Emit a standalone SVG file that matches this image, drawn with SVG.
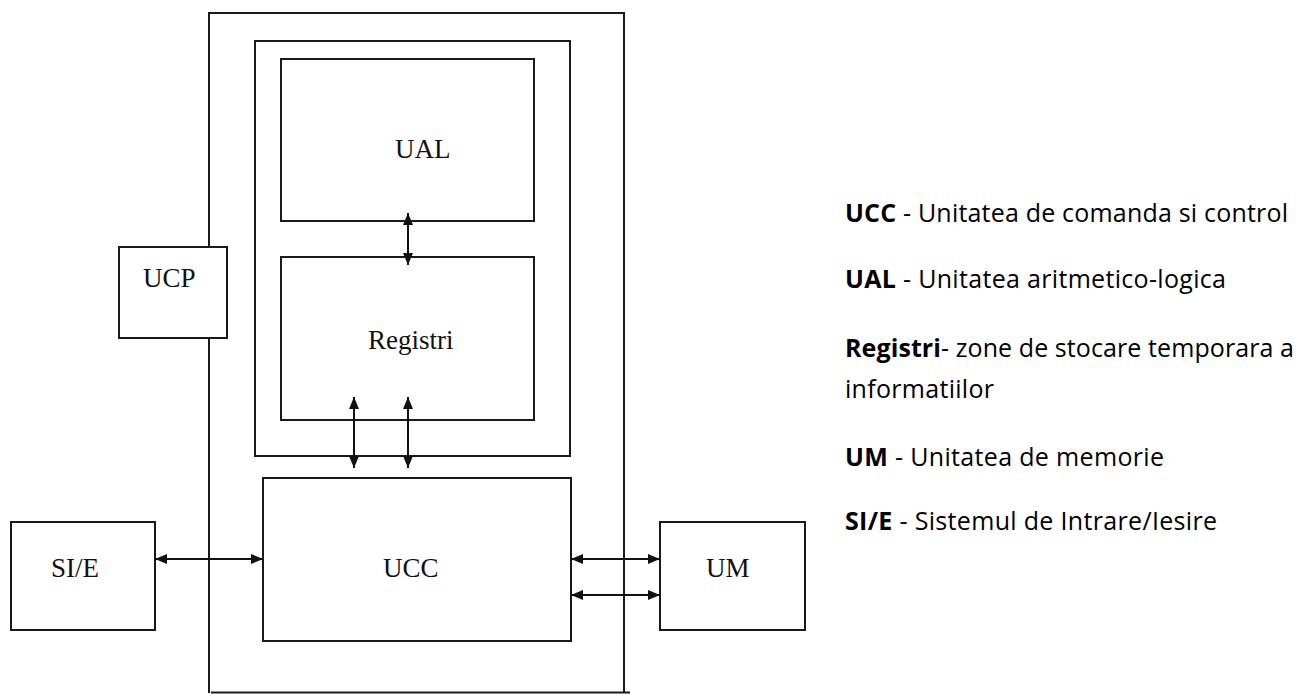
<svg xmlns="http://www.w3.org/2000/svg" width="1296" height="695" viewBox="0 0 1296 695">
<style>
.box{fill:#fff;stroke:#1a1a1a;stroke-width:2}
.frame{fill:none;stroke:#1a1a1a;stroke-width:2}
.lbl{font-family:"Liberation Serif","Times New Roman",serif;font-size:27px;fill:#111}
.conn{stroke:#111;stroke-width:2;fill:none;marker-start:url(#ah);marker-end:url(#ah)}
.leg{font-family:"Open Sans","Noto Sans",sans-serif;font-size:25px;fill:#000}
.b{font-weight:bold}
</style>
<defs>
<marker id="ah" markerUnits="userSpaceOnUse" markerWidth="12" markerHeight="10" refX="12" refY="5" orient="auto-start-reverse">
<path d="M0,0 L12,5 L0,10 z" fill="#111"/>
</marker>
</defs>
<rect width="1296" height="695" fill="#fff"/>
<g id="outer">
<path class="frame" d="M209,693 V13 H624 V693"/>
<line class="frame" x1="211" y1="692.5" x2="630" y2="692.5"/>
</g>
<g id="container">
<rect class="frame" x="255" y="41" width="315" height="415"/>
</g>
<g id="UCP">
<rect class="box" x="119" y="247" width="108" height="91"/>
<text class="lbl" x="143" y="287">UCP</text>
</g>
<g id="UAL">
<rect class="box" x="281" y="59" width="253" height="162"/>
<text class="lbl" x="395" y="158">UAL</text>
</g>
<g id="Registri">
<rect class="box" x="281" y="257" width="253" height="163"/>
<text class="lbl" x="368" y="349">Registri</text>
</g>
<g id="UCC">
<rect class="box" x="263" y="478" width="308" height="163"/>
<text class="lbl" x="383" y="577">UCC</text>
</g>
<g id="SIE">
<rect class="box" x="11" y="522" width="144" height="108"/>
<text class="lbl" x="51" y="577">SI/E</text>
</g>
<g id="UM">
<rect class="box" x="660" y="522" width="145" height="108"/>
<text class="lbl" x="706" y="577">UM</text>
</g>
<g id="connectors">
<line class="conn" x1="408" y1="213" x2="408" y2="265"/>
<line class="conn" x1="354" y1="397" x2="354" y2="468"/>
<line class="conn" x1="408" y1="397" x2="408" y2="468"/>
<line class="conn" x1="155" y1="559" x2="263" y2="559"/>
<line class="conn" x1="571" y1="559" x2="660" y2="559"/>
<line class="conn" x1="571" y1="595" x2="660" y2="595"/>
</g>
<g id="legend">
<text class="leg" x="845" y="222" textLength="443" lengthAdjust="spacing"><tspan class="b">UCC</tspan> - Unitatea de comanda si control</text>
<text class="leg" x="845" y="288" textLength="381" lengthAdjust="spacing"><tspan class="b">UAL</tspan> - Unitatea aritmetico-logica</text>
<text class="leg" x="845" y="357" textLength="449" lengthAdjust="spacing"><tspan class="b">Registri</tspan>- zone de stocare temporara a</text>
<text class="leg" x="845" y="398" textLength="149" lengthAdjust="spacing">informatiilor</text>
<text class="leg" x="845" y="466" textLength="319" lengthAdjust="spacing"><tspan class="b">UM</tspan> - Unitatea de memorie</text>
<text class="leg" x="845" y="530" textLength="372" lengthAdjust="spacing"><tspan class="b">SI/E</tspan> - Sistemul de Intrare/Iesire</text>
</g>
</svg>
